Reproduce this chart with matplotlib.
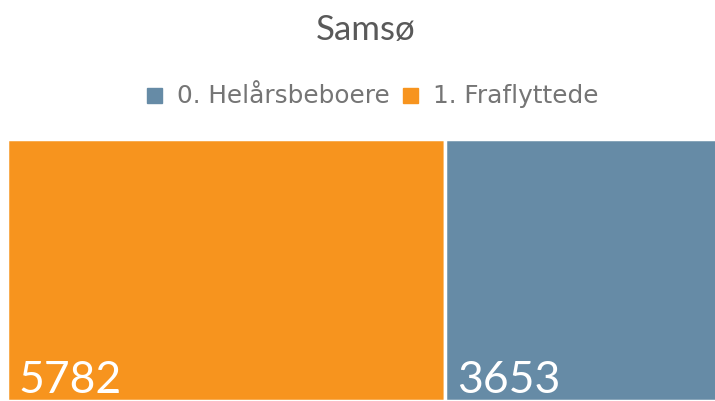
"""Treemap of residents on Samsø."""

import matplotlib

matplotlib.use("Agg")

import matplotlib.pyplot as plt
import numpy as np

# data
categories = ["0. Helårsbeboere", "1. Fraflyttede"]
values = [3653, 5782]
colors = {"0. Helårsbeboere": "#668ba6", "1. Fraflyttede": "#f7941e"}
title = "Samsø"

W, H = 715, 401
fig = plt.figure(figsize=(W / 100, H / 100), dpi=100)
plt.rcParams["font.family"] = ["Lato", "DejaVu Sans"]

# treemap: largest first, split along x
order = np.argsort(values)[::-1]
vals = np.array(values, dtype=float)[order]
labs = [categories[i] for i in order]
lefts = np.concatenate([[0], np.cumsum(vals)[:-1]])

left_px, right_px, top_px = 6.5, 722, 138.5
ax = fig.add_axes([left_px / W, 0, (right_px - left_px) / W, (H - top_px) / H])
ax.bar(lefts, np.ones_like(vals), width=vals, align="edge",
       color=[colors[l] for l in labs], edgecolor="white", linewidth=2.5)
ax_h = H - top_px
for x, v in zip(lefts, vals):
    ax.text(x + vals.sum() * 0.017, 8 / ax_h, f"{int(v)}", color="white",
            fontsize=32, ha="left", va="baseline")
ax.set_xlim(0, vals.sum())
ax.set_ylim(0, 1)
ax.axis("off")

fig.text(366 / W, 1 - 40 / H, title, ha="center", va="baseline",
         fontsize=25, color="#595959")

# legend drawn by hand
x = 147
for cat in categories:
    fig.patches.append(plt.Rectangle((x / W, 1 - 103 / H), 15 / W, 15 / H,
                                     transform=fig.transFigure,
                                     color=colors[cat]))
    t = fig.text((x + 30) / W, 1 - 103 / H, cat, ha="left", va="baseline",
                 fontsize=17.8, color="#757575", family="DejaVu Sans")
    fig.canvas.draw()
    bb = t.get_window_extent()
    x = bb.x1 + 13

fig.savefig("out.png", dpi=100)
plt.close(fig)
